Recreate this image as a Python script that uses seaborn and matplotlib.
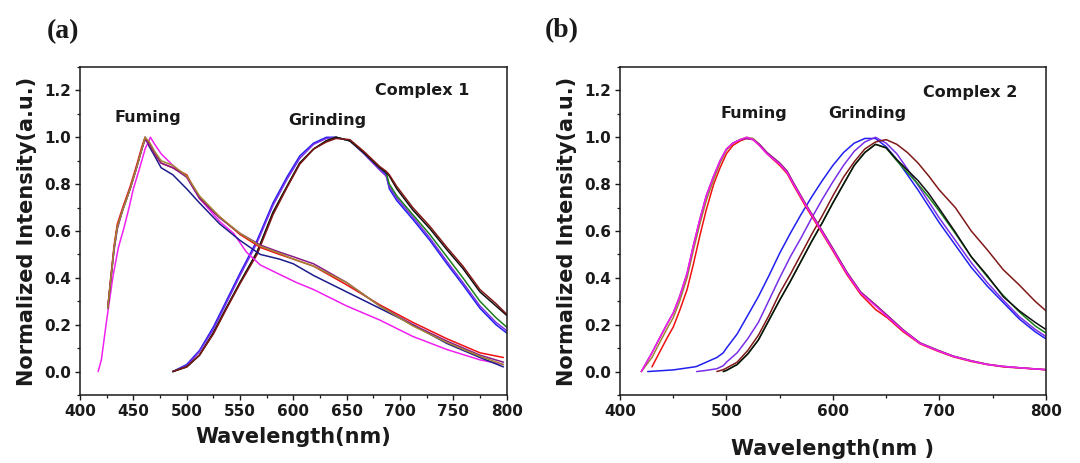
import numpy as np
import pandas as pd
import matplotlib.pyplot as plt
import matplotlib.ticker as mticker
import seaborn as sns

nan = np.nan

# ---------------- panel (a): Complex 1 ----------------
# fuming spectra (shared wavelength grid)
a_fum_wl = [426, 429, 432, 435, 440, 447, 453, 458, 461, 465, 470, 476, 487, 500,
            512, 531, 550, 569, 587, 600, 619, 650, 681, 712, 744, 775, 797]
a_fum_navy = [0.27, 0.40, 0.53, 0.62, 0.69, 0.78, 0.87, 0.95, 1.00, 0.96, 0.92, 0.87, 0.84, 0.78,
              0.72, 0.63, 0.56, 0.50, 0.48, 0.46, 0.41, 0.34, 0.27, 0.20, 0.12, 0.06, 0.02]
a_fum_red = [0.27, 0.41, 0.54, 0.63, 0.70, 0.79, 0.88, 0.96, 1.00, 0.97, 0.93, 0.89, 0.87, 0.84,
             0.74, 0.66, 0.585, 0.53, 0.50, 0.48, 0.45, 0.37, 0.285, 0.21, 0.14, 0.08, 0.06]
a_fum_purple = [0.27, 0.40, 0.52, 0.61, 0.69, 0.78, 0.87, 0.95, 0.99, 0.97, 0.93, 0.89, 0.87, 0.83,
                0.74, 0.655, 0.59, 0.54, 0.51, 0.49, 0.46, 0.38, 0.28, 0.20, 0.13, 0.07, 0.04]
a_fum_olive = [0.27, 0.40, 0.53, 0.62, 0.69, 0.78, 0.87, 0.95, 1.00, 0.98, 0.94, 0.90, 0.88, 0.835,
               0.75, 0.66, 0.59, 0.535, 0.505, 0.48, 0.45, 0.38, 0.28, 0.195, 0.124, 0.065, 0.03]
# fuming, magenta curve (own grid)
a_mag_wl = [417, 420, 425, 431, 436, 441, 446, 450, 456, 461, 466, 470, 476, 487, 500,
            512, 531, 544, 556, 569, 587, 603, 619, 650, 681, 712, 744, 775, 797]
a_mag = [0.0, 0.05, 0.22, 0.41, 0.53, 0.61, 0.70, 0.78, 0.87, 0.95, 1.00, 0.97, 0.93, 0.88, 0.83,
         0.74, 0.64, 0.59, 0.51, 0.455, 0.415, 0.38, 0.35, 0.28, 0.22, 0.15, 0.094, 0.05, 0.03]

# grinding spectra
a_grd_wl = [487, 500, 512, 525, 537, 550, 566, 581, 594, 606, 619, 631, 640, 653, 666,
            681, 687, 690, 697, 712, 728, 744, 759, 775, 790, 800]
a_grd_blue = [0.0, 0.03, 0.09, 0.19, 0.30, 0.42, 0.56, 0.72, 0.83, 0.92, 0.975, 1.0, 1.0, 0.985, 0.935,
              0.87, 0.84, 0.78, 0.73, 0.65, 0.56, 0.46, 0.37, 0.27, 0.20, 0.165]
a_grd_violet = [0.0, 0.025, 0.085, 0.18, 0.29, 0.41, 0.55, 0.71, 0.82, 0.91, 0.97, 0.995, 1.0, 0.985, 0.93,
                0.86, 0.835, 0.79, 0.74, 0.66, 0.57, 0.47, 0.38, 0.28, 0.21, 0.175]
a_grd_green = [0.0, 0.02, 0.07, 0.165, 0.27, 0.38, 0.51, 0.68, 0.79, 0.89, 0.95, 0.985, 1.0, 0.985, 0.935,
               0.87, 0.85, 0.80, 0.75, 0.67, 0.585, 0.49, 0.40, 0.30, 0.23, 0.19]
a_grd_black = [0.0, 0.02, 0.07, 0.165, 0.27, 0.38, 0.51, 0.68, 0.79, 0.89, 0.95, 0.985, 1.0, 0.985, 0.935,
               0.87, 0.85, 0.835, 0.78, 0.69, 0.61, 0.52, 0.44, 0.34, 0.28, 0.24]
a_grd_wine = [0.0, 0.02, 0.07, 0.16, 0.265, 0.375, 0.50, 0.67, 0.785, 0.885, 0.95, 0.98, 0.995, 0.99, 0.94,
              0.875, 0.855, 0.84, 0.79, 0.70, 0.62, 0.53, 0.45, 0.35, 0.29, 0.245]

# ---------------- panel (b): Complex 2 ----------------
b_fum_wl = [420, 430, 438, 445, 450, 456, 463, 469, 475, 481, 488, 494, 500, 506, 513, 519, 525,
            531, 538, 550, 557, 563, 575, 588, 594, 600, 613, 626, 640, 651, 666, 682, 698, 713,
            730, 745, 760, 776, 800]
b_fum_magenta = [0.0, 0.08, 0.15, 0.21, 0.25, 0.32, 0.42, 0.54, 0.65, 0.75, 0.835, 0.90, 0.95, 0.975,
                 0.99, 1.0, 0.99, 0.965, 0.93, 0.885, 0.85, 0.80, 0.706, 0.61, 0.564, 0.52, 0.42, 0.336,
                 0.28, 0.235, 0.175, 0.12, 0.09, 0.065, 0.045, 0.03, 0.022, 0.016, 0.008]
b_fum_purple = [0.0, 0.08, 0.15, 0.21, 0.25, 0.32, 0.42, 0.54, 0.65, 0.75, 0.835, 0.90, 0.95, 0.975,
                0.99, 0.995, 0.99, 0.97, 0.935, 0.89, 0.855, 0.805, 0.71, 0.615, 0.57, 0.525, 0.425, 0.34,
                0.285, 0.24, 0.178, 0.122, 0.092, 0.066, 0.046, 0.031, 0.022, 0.016, 0.008]
b_fum_olive = [0.0, 0.06, 0.13, 0.19, 0.23, 0.30, 0.40, 0.52, 0.63, 0.73, 0.82, 0.89, 0.945, 0.975,
               0.99, 1.0, 0.995, 0.97, 0.935, 0.89, 0.855, 0.805, 0.71, 0.615, 0.57, 0.525, 0.425, 0.34,
               0.285, 0.24, 0.178, 0.122, 0.092, 0.066, 0.046, 0.031, 0.022, 0.016, 0.008]
b_fum_red = [nan, 0.02, 0.09, 0.15, 0.19, 0.26, 0.35, 0.46, 0.58, 0.69, 0.80, 0.87, 0.93, 0.965,
             0.985, 0.995, 0.99, 0.965, 0.93, 0.88, 0.845, 0.795, 0.70, 0.605, 0.56, 0.515, 0.415, 0.33,
             0.265, 0.23, 0.17, 0.118, 0.088, 0.063, 0.043, 0.03, 0.02, 0.015, 0.008]

b_grd_wl = [426, 450, 470, 472, 481, 491, 497, 500, 510, 520, 530, 540, 550, 560, 570, 580, 590, 600,
            610, 620, 630, 640, 650, 660, 670, 680, 690, 700, 715, 730, 745, 760, 775, 790, 800]
b_grd_blue = [0.0, 0.007, 0.02, 0.022, 0.04, 0.06, 0.08, 0.10, 0.16, 0.24, 0.32, 0.41, 0.505, 0.59,
              0.67, 0.745, 0.815, 0.88, 0.935, 0.975, 0.995, 0.995, 0.96, 0.905, 0.84, 0.775, 0.705,
              0.635, 0.54, 0.445, 0.365, 0.295, 0.225, 0.17, 0.14]
b_grd_violet = [nan, nan, nan, 0.0, 0.005, 0.012, 0.025, 0.04, 0.08, 0.14, 0.21, 0.305, 0.40, 0.49,
                0.57, 0.655, 0.735, 0.81, 0.88, 0.94, 0.98, 1.0, 0.975, 0.93, 0.865, 0.795, 0.725,
                0.655, 0.56, 0.465, 0.38, 0.305, 0.235, 0.18, 0.15]
b_grd_green = [nan, nan, nan, nan, nan, nan, 0.0, 0.005, 0.03, 0.075, 0.135, 0.22, 0.305, 0.385,
               0.47, 0.555, 0.635, 0.72, 0.80, 0.88, 0.935, 0.97, 0.955, 0.90, 0.85, 0.80, 0.745,
               0.685, 0.59, 0.49, 0.405, 0.325, 0.255, 0.195, 0.165]
b_grd_black = [nan, nan, nan, nan, nan, nan, 0.0, 0.005, 0.03, 0.075, 0.135, 0.22, 0.305, 0.385,
               0.47, 0.555, 0.635, 0.72, 0.80, 0.88, 0.935, 0.97, 0.955, 0.905, 0.86, 0.815, 0.76,
               0.695, 0.595, 0.49, 0.41, 0.32, 0.26, 0.21, 0.18]
b_grd_wine = [nan, nan, nan, nan, nan, 0.0, 0.008, 0.015, 0.04, 0.09, 0.155, 0.24, 0.335, 0.415,
              0.50, 0.585, 0.665, 0.75, 0.83, 0.895, 0.95, 0.98, 0.99, 0.97, 0.935, 0.89, 0.835,
              0.775, 0.70, 0.60, 0.52, 0.435, 0.37, 0.30, 0.26]

colors = {'navy': '#1c1c8c', 'red': '#f01010', 'purple': '#8a1a8a', 'olive': '#a08432',
          'magenta': '#f020f0', 'blue': '#2020f0', 'violet': '#7a2ee8', 'green': '#1a801a',
          'black': '#101010', 'wine': '#801818'}


def to_long(wl, curves):
    frames = []
    for name, vals in curves:
        frames.append(pd.DataFrame({'wl': wl, 'I': vals, 'curve': name}))
    return pd.concat(frames, ignore_index=True)


df_a = pd.concat([
    to_long(a_grd_wl, [('blue', a_grd_blue), ('violet', a_grd_violet), ('green', a_grd_green),
                       ('black', a_grd_black), ('wine', a_grd_wine)]),
    to_long(a_mag_wl, [('magenta', a_mag)]),
    to_long(a_fum_wl, [('navy', a_fum_navy), ('red', a_fum_red), ('purple', a_fum_purple),
                       ('olive', a_fum_olive)]),
], ignore_index=True)

df_b = pd.concat([
    to_long(b_grd_wl, [('blue', b_grd_blue), ('violet', b_grd_violet), ('green', b_grd_green),
                       ('black', b_grd_black), ('wine', b_grd_wine)]),
    to_long(b_fum_wl, [('red', b_fum_red), ('olive', b_fum_olive), ('purple', b_fum_purple),
                       ('magenta', b_fum_magenta)]),
], ignore_index=True).dropna()

sns.set_style('ticks')
plt.rcParams['font.family'] = ['DejaVu Sans']
plt.rcParams['font.weight'] = 'bold'
ink = '#1a1a1a'

fig = plt.figure(figsize=(10.8, 4.63), dpi=100)
ax_a = fig.add_axes([0.0741, 0.1469, 0.395, 0.7084])
ax_b = fig.add_axes([0.5741, 0.1469, 0.3942, 0.7084])

for ax, df in [(ax_a, df_a), (ax_b, df_b)]:
    order = list(dict.fromkeys(df['curve']))
    sns.lineplot(data=df, x='wl', y='I', hue='curve', hue_order=order, palette=colors,
                 estimator=None, sort=False, legend=False, lw=1.1, ax=ax)
    ax.set_xlim(400, 800)
    ax.set_ylim(-0.1, 1.3)
    ax.yaxis.set_major_locator(mticker.FixedLocator([0.0, 0.2, 0.4, 0.6, 0.8, 1.0, 1.2]))
    ax.yaxis.set_major_formatter(mticker.FormatStrFormatter('%.1f'))
    ax.yaxis.set_minor_locator(mticker.MultipleLocator(0.1))
    ax.tick_params(which='major', direction='out', length=3.6, width=1.0, pad=3,
                   labelsize=11, colors=ink)
    ax.tick_params(which='minor', direction='out', length=2.2, width=0.9, colors=ink)
    for s in ax.spines.values():
        s.set_linewidth(1.1)
        s.set_color(ink)
        s.set_visible(True)
    ax.set_ylabel('Normalized Intensity(a.u.)', fontsize=15, fontweight='bold', color=ink, labelpad=5)

ax_a.xaxis.set_major_locator(mticker.MultipleLocator(50))
ax_a.xaxis.set_minor_locator(mticker.MultipleLocator(25))
ax_b.xaxis.set_major_locator(mticker.MultipleLocator(100))
ax_b.xaxis.set_minor_locator(mticker.MultipleLocator(50))
for ax in (ax_a, ax_b):
    for lab in ax.get_xticklabels() + ax.get_yticklabels():
        lab.set_fontweight('bold')

ax_a.set_xlabel('Wavelength(nm)', fontsize=15, fontweight='bold', color=ink, labelpad=6)
ax_b.set_xlabel('Wavelength(nm )', fontsize=15, fontweight='bold', color=ink, labelpad=14)

ann = dict(fontsize=11.5, fontweight='bold', color=ink, ha='center', va='center')
ax_a.text(721, 1.20, 'Complex 1', **ann)
ax_a.text(464, 1.085, 'Fuming', **ann)
ax_a.text(632, 1.07, 'Grinding', **ann)
ax_b.text(729, 1.19, 'Complex 2', **ann)
ax_b.text(526, 1.10, 'Fuming', **ann)
ax_b.text(632, 1.10, 'Grinding', **ann)

fig.text(63 / 1080, 1 - 32 / 463, '(a)', fontsize=20, fontweight='bold', color=ink,
         family='Liberation Serif', ha='center', va='center')
fig.text(562 / 1080, 1 - 31 / 463, '(b)', fontsize=20, fontweight='bold', color=ink,
         family='Liberation Serif', ha='center', va='center')

fig.savefig('out.png', dpi=100)
